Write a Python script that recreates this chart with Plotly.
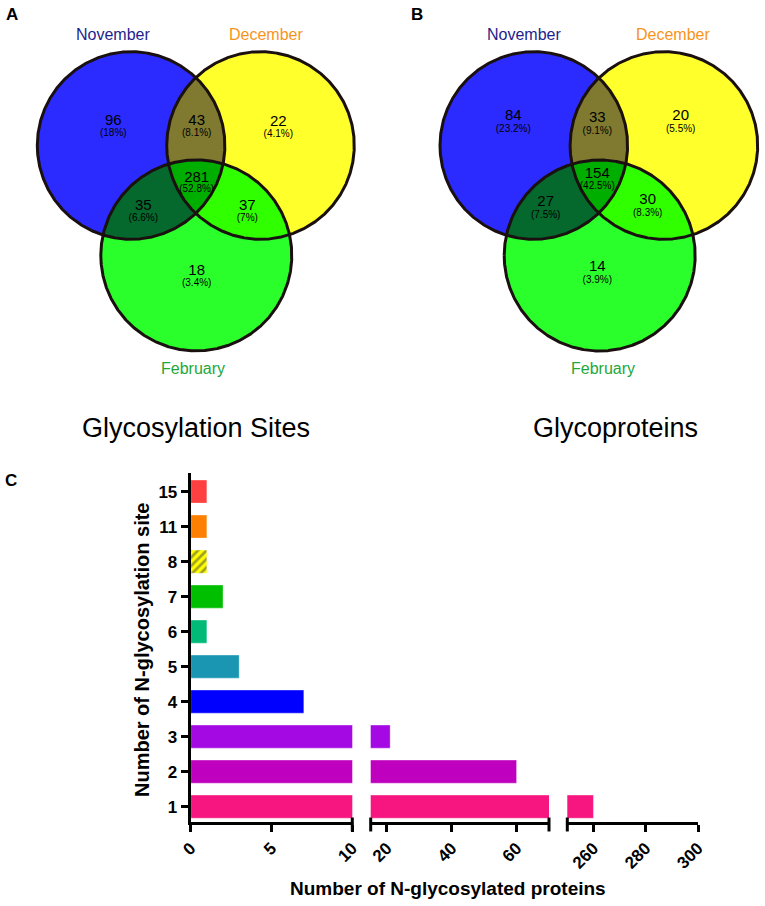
import numpy as np
import plotly.graph_objects as go

# ---------------- data ----------------
set_names = ["November", "December", "February"]
# region order: Nov only, Dec only, Feb only, Nov&Dec, Nov&Feb, Dec&Feb, all three
site_counts = [96, 22, 18, 43, 35, 37, 281]
protein_counts = [84, 20, 14, 33, 27, 30, 154]
panel_titles = ["Glycosylation Sites", "Glycoproteins"]

site_categories = ["1", "2", "3", "4", "5", "6", "7", "8", "11", "15"]
protein_numbers = [260, 60, 21, 7, 3, 1, 2, 1, 1, 1]
x_ticks_seg1 = [0, 5, 10]
x_ticks_seg2 = [20, 40, 60]
x_ticks_seg3 = [260, 280, 300]

# ---------------- layout / style ----------------
W, H = 765, 906
VENN_H = 460
FONT = "Arial, Liberation Sans, sans-serif"

circles = {
    "A": [(131.1, 145.5, 93.8), (260.5, 145.5, 93.8), (196.3, 255.4, 95.5)],
    "B": [(533.8, 145.5, 93.8), (663.9, 145.5, 93.8), (599.7, 255.5, 95.5)],
}
set_fill = ["#2B2BFF", "#FFFF2B", "#2BFF2B"]
pair_fill = {(0, 1): "#7F7A30", (0, 2): "#05692D", (1, 2): "#30FF00"}
triple_fill = "#00AE00"
set_label_colors = ["#1E1E8C", "#F7941D", "#22A83A"]

label_pos = {
    "A": [(113.3, 121.7), (278.3, 122.7), (196.7, 271.7), (196.7, 121.7),
          (143.3, 206.7), (247.3, 206.7), (196.7, 178.3)],
    "B": [(513.3, 116.7), (680.7, 116.7), (597.3, 267.7), (597.3, 118.7),
          (545.7, 202.7), (647.7, 200.7), (597.3, 174.0)],
}
pct_offset = {"A": 11.5, "B": 12.5}
set_label_pos = {
    "A": [(113.3, 34.3), (265.7, 34.3), (193.3, 368.3)],
    "B": [(524.3, 34.3), (673.3, 34.3), (602.7, 368.3)],
}
title_pos = [(196, 428), (615, 428)]

bar_colors = ["#F7157F", "#BF00BF", "#A408E3", "#0000FF", "#1A96B3",
              "#00BA78", "#00BF00", "#FFFF00", "#FF8000", "#FF4040"]
bar_patterns = ["", "", "", "", "", "", "", "/", "", ""]

seg_ranges = [[0, 10], [15, 70], [250, 300]]
seg_px = [(190.7, 352.3), (370.7, 549.0), (567.3, 698.0)]
seg_ticks = [x_ticks_seg1, x_ticks_seg2, x_ticks_seg3]
y_bottom_px, y_top_px = 821.7, 473.0


def inter_poly(circs, n=1440):
    pts = []
    for i, (cx, cy, r) in enumerate(circs):
        t = np.linspace(0, 2 * np.pi, n, endpoint=False)
        x = cx + r * np.cos(t)
        y = cy + r * np.sin(t)
        ok = np.ones(n, bool)
        for j, (ox, oy, orr) in enumerate(circs):
            if j != i:
                ok &= (x - ox) ** 2 + (y - oy) ** 2 <= orr ** 2 + 1e-6
        pts.append(np.c_[x[ok], y[ok]])
    P = np.vstack(pts)
    c = P.mean(0)
    a = np.arctan2(P[:, 1] - c[1], P[:, 0] - c[0])
    P = P[np.argsort(a)]
    return np.r_[P, P[:1]]


def pct(v, total):
    s = f"{100 * v / total:.1f}"
    if s.endswith(".0"):
        s = s[:-2]
    return f"({s}%)"


fig = go.Figure()

for key, counts in (("A", site_counts), ("B", protein_counts)):
    cs = circles[key]
    for i, c in enumerate(cs):
        P = inter_poly([c])
        fig.add_trace(go.Scatter(x=P[:, 0], y=P[:, 1], mode="lines", fill="toself",
                                 fillcolor=set_fill[i], line=dict(width=0),
                                 hoverinfo="skip", showlegend=False, xaxis="x", yaxis="y"))
    for (i, j), col in pair_fill.items():
        P = inter_poly([cs[i], cs[j]])
        fig.add_trace(go.Scatter(x=P[:, 0], y=P[:, 1], mode="lines", fill="toself",
                                 fillcolor=col, line=dict(width=0),
                                 hoverinfo="skip", showlegend=False, xaxis="x", yaxis="y"))
    P = inter_poly(cs)
    fig.add_trace(go.Scatter(x=P[:, 0], y=P[:, 1], mode="lines", fill="toself",
                             fillcolor=triple_fill, line=dict(width=0),
                             hoverinfo="skip", showlegend=False, xaxis="x", yaxis="y"))
    for c in cs:
        P = inter_poly([c])
        fig.add_trace(go.Scatter(x=P[:, 0], y=P[:, 1], mode="lines",
                                 line=dict(width=3, color="#1B1010"),
                                 hoverinfo="skip", showlegend=False, xaxis="x", yaxis="y"))
    total = sum(counts)
    lp = label_pos[key]
    fig.add_trace(go.Scatter(x=[p[0] for p in lp], y=[p[1] for p in lp], mode="text",
                             text=[str(v) for v in counts],
                             textfont=dict(family=FONT, size=15, color="black"),
                             hoverinfo="skip", showlegend=False, xaxis="x", yaxis="y"))
    fig.add_trace(go.Scatter(x=[p[0] for p in lp], y=[p[1] + pct_offset[key] for p in lp],
                             mode="text", text=[pct(v, total) for v in counts],
                             textfont=dict(family=FONT, size=10, color="black"),
                             hoverinfo="skip", showlegend=False, xaxis="x", yaxis="y"))

annotations = []
for key in ("A", "B"):
    for i, (x, y) in enumerate(set_label_pos[key]):
        annotations.append(dict(x=x, y=y, xref="x", yref="y", text=set_names[i],
                                showarrow=False, xanchor="center", yanchor="middle",
                                font=dict(family=FONT, size=16, color=set_label_colors[i])))
for t, (x, y) in zip(panel_titles, title_pos):
    annotations.append(dict(x=x, y=y, xref="x", yref="y", text=t, showarrow=False,
                            xanchor="center", yanchor="middle",
                            font=dict(family=FONT, size=27, color="black")))

for letter, (x, y) in (("A", (11.5, 14.5)), ("B", (417, 14.5)), ("C", (11, 480))):
    annotations.append(dict(x=x / W, y=1 - y / H, xref="paper", yref="paper",
                            text=f"<b>{letter}</b>", showarrow=False,
                            xanchor="center", yanchor="middle",
                            font=dict(family=FONT, size=17, color="black")))

annotations.append(dict(x=448 / W, y=1 - 888 / H, xref="paper", yref="paper",
                        text="<b>Number of N-glycosylated proteins</b>", showarrow=False,
                        xanchor="center", yanchor="middle",
                        font=dict(family=FONT, size=19, color="black")))
annotations.append(dict(x=142 / W, y=1 - 650 / H, xref="paper", yref="paper",
                        text="<b>Number of N-glycosylation site</b>", showarrow=False,
                        xanchor="center", yanchor="middle",
                        textangle=-90, font=dict(family=FONT, size=20, color="black")))

# ---------------- bar chart (broken x axis) ----------------
ypos = list(range(len(site_categories)))
xa_names = ["x2", "x3", "x4"]
for xa in xa_names:
    fig.add_trace(go.Bar(
        x=protein_numbers, y=ypos, orientation="h", xaxis=xa, yaxis="y2",
        width=0.66,
        marker=dict(color=bar_colors,
                    line=dict(width=1, color="rgba(255,255,255,0.35)"),
                    pattern=dict(shape=bar_patterns, bgcolor="#ECECF4",
                                 size=6, solidity=0.45)),
        hoverinfo="skip", showlegend=False))

tickfont = dict(family=FONT, size=17, color="black", weight="bold")
layout_axes = {}
for k, xa in enumerate(xa_names):
    name = "xaxis" + xa[1:]
    layout_axes[name] = dict(
        domain=[seg_px[k][0] / W, seg_px[k][1] / W], range=seg_ranges[k],
        anchor="y2", tickvals=seg_ticks[k], tickangle=-45,
        showline=True, linewidth=3, linecolor="black", ticks="outside",
        ticklen=7, tickwidth=3, tickcolor="black", tickfont=tickfont,
        showgrid=False, zeroline=False, fixedrange=True, automargin=False)

layout_axes["yaxis2"] = dict(
    domain=[1 - y_bottom_px / H, 1 - y_top_px / H], range=[-0.43, 9.53],
    anchor="x2", tickvals=ypos, ticktext=site_categories,
    showline=True, linewidth=3, linecolor="black", ticks="outside",
    ticklen=7, tickwidth=3, tickcolor="black", tickfont=tickfont,
    showgrid=False, zeroline=False, fixedrange=True, automargin=False)

shapes = []
for xa, xpos in (("x2", 1), ("x3", 0), ("x3", 1), ("x4", 0)):
    shapes.append(dict(type="line", xref=f"{xa} domain", yref="y2 domain",
                       x0=xpos, x1=xpos, y0=-0.028, y1=0.012,
                       line=dict(color="black", width=3)))

fig.update_layout(
    width=W, height=H, margin=dict(l=0, r=0, t=0, b=0, pad=0, autoexpand=False),
    paper_bgcolor="white", plot_bgcolor="rgba(0,0,0,0)",
    xaxis=dict(domain=[0, 1], range=[0, W], visible=False, fixedrange=True,
               automargin=False),
    yaxis=dict(domain=[1 - VENN_H / H, 1], range=[VENN_H, 0], visible=False,
               fixedrange=True, automargin=False),
    annotations=annotations, shapes=shapes, bargap=0.3,
    **layout_axes,
)

fig.write_html("out.html", config={"displayModeBar": False},
               post_script="document.body.style.margin='0';document.body.style.overflow='hidden';")
